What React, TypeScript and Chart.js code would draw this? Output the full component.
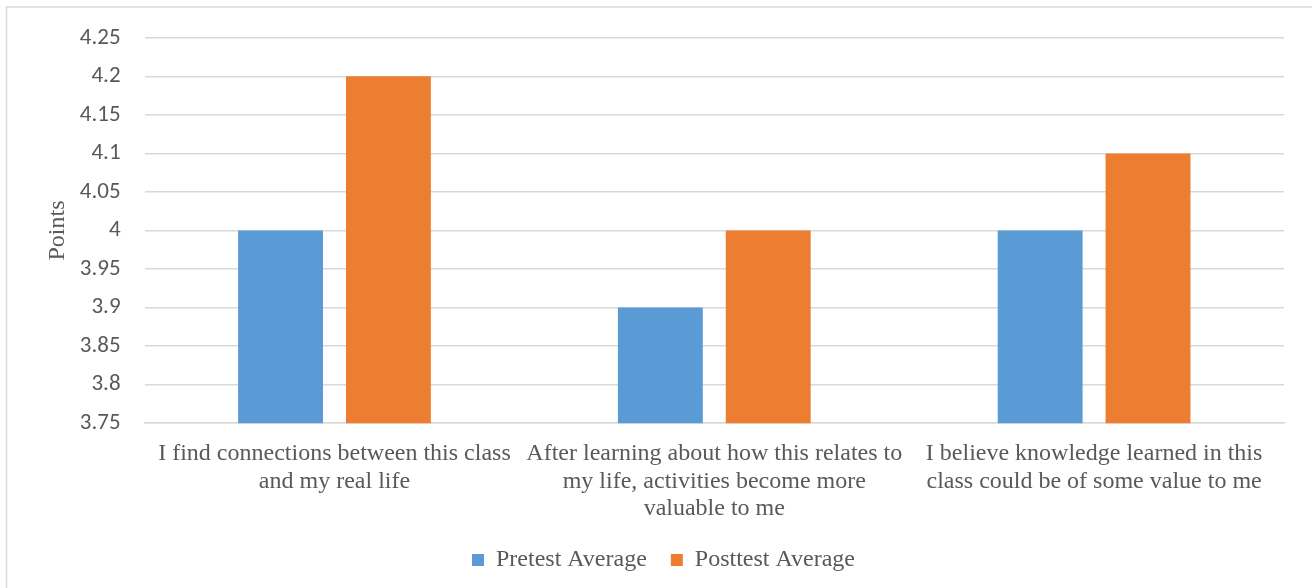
import React, { useEffect, useRef } from "react";
import { Chart, registerables } from "chart.js";

Chart.register(...registerables);

const categories: string[][] = [
  ["I find connections between this class", "and my real life"],
  ["After learning about how this relates to", "my life, activities become more", "valuable to me"],
  ["I believe knowledge learned in this", "class could be of some value to me"],
];
const pretestAverage = [4.0, 3.9, 4.0];
const posttestAverage = [4.2, 4.0, 4.1];
const yMin = 3.75;
const yMax = 4.25;
const yStep = 0.05;

const SERIF = "'Times New Roman', 'Liberation Serif', serif";
const SANS = "Calibri, Carlito, 'Liberation Sans', Arial, sans-serif";
const TEXT = "#595959";
const GRID = "#D9D9D9";

// White background plus the thin frame around the chart area
const framePlugin = {
  id: "frame",
  beforeDraw(chart: Chart) {
    const ctx = chart.ctx;
    ctx.save();
    ctx.fillStyle = "#ffffff";
    ctx.fillRect(0, 0, chart.width, chart.height);
    ctx.strokeStyle = GRID;
    ctx.lineWidth = 1.5;
    ctx.strokeRect(6.5, 7, chart.width + 20, chart.height + 20);
    ctx.restore();
  },
};

export default function App() {
  const canvasRef = useRef<HTMLCanvasElement | null>(null);

  useEffect(() => {
    if (!canvasRef.current) return;
    const chart = new Chart(canvasRef.current, {
      type: "bar",
      data: {
        labels: categories,
        datasets: [
          {
            label: "Pretest Average",
            data: pretestAverage,
            backgroundColor: "#5B9BD5",
            categoryPercentage: 0.568,
            barPercentage: 0.787,
          },
          {
            label: "Posttest Average",
            data: posttestAverage,
            backgroundColor: "#ED7D31",
            categoryPercentage: 0.568,
            barPercentage: 0.787,
          },
        ],
      },
      options: {
        animation: false,
        responsive: false,
        layout: { padding: { top: 28, right: 28, left: 43, bottom: 6 } },
        plugins: {
          tooltip: { enabled: false },
          legend: {
            position: "bottom",
            labels: {
              boxWidth: 12,
              boxHeight: 12,
              padding: 24,
              color: TEXT,
              font: { family: SERIF, size: 24 },
            },
          },
        },
        scales: {
          x: {
            grid: { display: false, drawTicks: false },
            border: { display: true, color: GRID, width: 1.5 },
            ticks: {
              color: TEXT,
              font: { family: SERIF, size: 24, lineHeight: 1.15 },
              padding: 17,
              maxRotation: 0,
              autoSkip: false,
            },
            // category labels sit inside their own bands; let the wrapped
            // lines hang into the space above the legend
            afterFit: (scale: any) => {
              scale.paddingLeft = 0;
              scale.paddingRight = 0;
              scale.height -= 16;
            },
          },
          y: {
            min: yMin,
            max: yMax,
            grid: { color: GRID, lineWidth: 1.5, drawTicks: false },
            border: { display: false },
            ticks: {
              stepSize: yStep,
              color: TEXT,
              padding: 24,
              font: { family: SANS, size: 23 },
              callback: (v: number | string) => String(parseFloat(Number(v).toFixed(2))),
            },
            // tick padding only needs to separate labels from the plot
            afterFit: (scale: any) => {
              scale.width -= 24;
            },
            title: {
              display: true,
              text: "Points",
              color: TEXT,
              font: { family: SERIF, size: 24 },
              padding: { top: 0, bottom: 8 },
            },
          },
        },
      },
      plugins: [framePlugin],
    });
    return () => chart.destroy();
  }, []);

  return (
    <div style={{ position: "fixed", left: 0, top: 0, width: 1312, height: 588, background: "#fff" }}>
      <canvas ref={canvasRef} width={1312} height={588} style={{ display: "block" }} />
    </div>
  );
}
